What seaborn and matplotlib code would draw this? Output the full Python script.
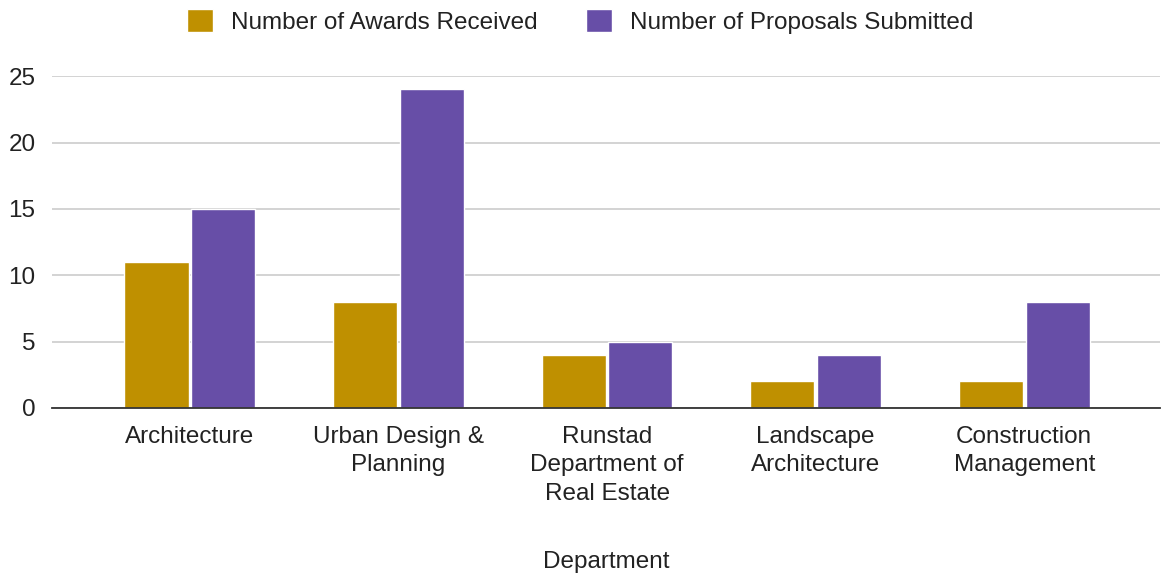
import matplotlib
matplotlib.use("Agg")
import matplotlib.pyplot as plt
import seaborn as sns
import pandas as pd

departments = ["Architecture", "Urban Design &\nPlanning", "Runstad\nDepartment of\nReal Estate",
               "Landscape\nArchitecture", "Construction\nManagement"]
awards = [11, 8, 4, 2, 2]
proposals = [15, 24, 5, 4, 8]
series_names = ["Number of Awards Received", "Number of Proposals Submitted"]
colors = ["#BF9000", "#674EA7"]
y_ticks = [0, 5, 10, 15, 20, 25]

df = pd.DataFrame({
    "Department": departments * 2,
    "Value": awards + proposals,
    "Series": [series_names[0]] * len(departments) + [series_names[1]] * len(departments),
})

sns.set_theme(style="white")
plt.rcParams['font.family'] = ['Liberation Sans', 'DejaVu Sans']

FS = 17.5
fig = plt.figure(figsize=(11.61, 5.73), dpi=100)
ax = fig.add_axes([0.045, 0.288, 0.954, 0.579])
sns.barplot(data=df, x="Department", y="Value", hue="Series", palette=colors,
            width=0.64, gap=0.04, ax=ax, saturation=1, legend=True)

ax.set_ylim(0, 25)
ax.set_xlim(-0.66, 4.65)
ax.set_yticks(y_ticks)
ax.yaxis.grid(True, color="#cccccc", linewidth=1.2)
ax.set_axisbelow(True)
for s in ["top", "right", "left"]:
    ax.spines[s].set_visible(False)
ax.spines["bottom"].set_color("#333333")
ax.spines["bottom"].set_linewidth(1.3)
ax.tick_params(axis="both", length=0, labelsize=FS, colors="#222222")
ax.tick_params(axis="x", pad=13)
ax.tick_params(axis="y", pad=12)
for lbl in ax.get_xticklabels():
    lbl.set_linespacing(1.38)
ax.set_ylabel("")
ax.set_xlabel("Department", fontsize=FS, color="#222222", labelpad=33)

handles, labels = ax.get_legend_handles_labels()
ax.legend_.remove()
fig.legend(handles, labels, loc="upper center", bbox_to_anchor=(0.5, 1.022), ncol=2,
           frameon=False, fontsize=FS, handlelength=1.05, handleheight=1.05,
           columnspacing=2.0, handletextpad=0.75, labelcolor="#222222")

fig.savefig("out.png", dpi=100)
